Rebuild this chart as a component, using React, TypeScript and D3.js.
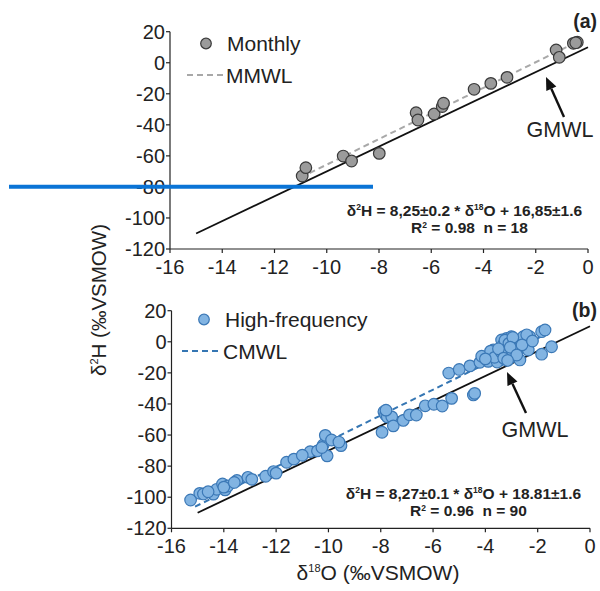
import React from "react";
import * as d3 from "d3";

// ---- Data ----
const xTicks = [-16, -14, -12, -10, -8, -6, -4, -2, 0];
const yTicks = [20, 0, -20, -40, -60, -80, -100, -120];

const monthlyO = [-10.94, -10.8, -9.37, -9.05, -7.99, -6.58, -6.51, -5.89, -5.58, -5.53, -4.36, -3.72, -3.1, -1.22, -1.1, -0.56, -0.41, -0.47];
const monthlyH = [-73.0, -67.6, -60.1, -63.3, -58.4, -32.2, -36.9, -33.0, -28.2, -26.1, -17.1, -13.3, -9.4, 8.2, 3.5, 12.5, 13.2, 12.9];

const hfO = [
  -15.27, -14.92, -14.78, -14.4, -14.27, -14.05, -13.95, -13.85, -13.5, -13.08,
  -12.93, -12.4, -12.1, -11.6, -11.32, -10.7, -10.42, -10.2, -10.12, -10.05,
  -9.88, -9.52, -14.0, -13.6, -10.25, -7.95, -7.88, -7.82, -7.75, -7.58,
  -7.52, -7.14, -6.9, -6.64, -6.3, -5.97, -5.65, -5.29, -7.8, -5.4,
  -5.0, -4.46, -4.41, -4.59, -4.21, -4.14, -3.89, -3.7, -3.57, -3.44,
  -3.38, -3.32, -3.19, -3.13, -3.0, -3.0, -2.87, -2.74, -2.68, -2.55,
  -2.49, -2.36, -2.3, -2.42, -1.85, -1.72, -1.85, -1.47, -3.55, -3.8,
  -3.25, -3.1, -2.95, -2.93, -2.83, -3.05, -3.65, -3.4, -2.6, -2.2,
  -3.5, -3.05, -2.8, -4.0, -3.3, -3.15, -12.0, -14.6, -11.0, -9.6,
];
const hfH = [
  -101.8, -97.5, -97.9, -98.0, -94.9, -91.5, -95.3, -92.8, -89.2, -87.2,
  -88.5, -86.5, -83.5, -77.5, -75.5, -70.7, -70.2, -66.4, -60.2, -73.4,
  -63.2, -66.8, -93.5, -90.5, -68.0, -58.2, -45.0, -47.0, -48.3, -48.3,
  -54.1, -50.6, -47.0, -47.1, -41.2, -40.2, -41.3, -36.4, -44.0, -20.1,
  -17.8, -34.2, -33.2, -15.5, -13.2, -9.3, -12.6, -5.3, -8.5, -11.8,
  1.2, -2.0, 2.2, -5.3, 3.3, -9.6, 0.1, -5.3, -11.7, 3.3,
  -3.2, -5.3, 3.3, 4.5, 6.5, 7.6, -8.0, -3.2, -13.0, -6.0,
  1.0, -1.0, 2.8, -4.2, -4.9, -7.4, -10.0, -6.5, -2.0, 0.5,
  -4.5, -3.5, -8.5, -11.0, -10.5, -12.0, -84.5, -96.5, -73.0, -64.5,
];

// fitted lines [slope, intercept, xStart, xEnd]
const gmwl = [8, 10, -15, 0];
const mmwl = [8.25, 16.85, -11, -0.4];
const cmwl = [8.27, 18.81, -15.1, -1.6];

type PanelProps = {
  top: number;
  xr: [number, number];
  yr: [number, number];
  xs: number[];
  ys: number[];
  fill: string;
  stroke: string;
  legendLabel: string;
  lineLabel: string;
  lineColor: string;
  fit: number[];
  panelLabel: string;
  eq1: [string, string, string];
  eq2: string;
  legendPos: { cx: number; cy: number; lx1: number; lx2: number; ly: number };
  gmwlText: { x: number; y: number; ax1: number; ay1: number; ax2: number; ay2: number };
  eqPos: { x: number; y1: number; y2: number };
  fitDash: string;
};

const font = "'Liberation Sans', Arial, sans-serif";
const tickFs = 20;

function Panel(p: PanelProps) {
  const x = d3.scaleLinear().domain([-16, 0]).range(p.xr);
  const y = d3.scaleLinear().domain([-120, 20]).range(p.yr);
  const line = d3
    .line<number>()
    .x((v) => x(v))
    .y((v) => y(v));
  const lineFor = (f: number[]) => line.y((v) => y(f[0] * v + f[1]))([f[2], f[3]]) || "";
  const axisY = p.yr[0];
  const axisX = p.xr[0];
  const ax = p.gmwlText;
  const ang = Math.atan2(ax.ay2 - ax.ay1, ax.ax2 - ax.ax1);
  const hl = 13,
    hw = 5.5;
  const bx = ax.ax2 - hl * Math.cos(ang),
    by = ax.ay2 - hl * Math.sin(ang);
  const head = `M${ax.ax2},${ax.ay2} L${bx + hw * Math.sin(ang)},${by - hw * Math.cos(ang)} L${bx - hw * Math.sin(ang)},${by + hw * Math.cos(ang)} Z`;
  return (
    <g>
      {/* axes */}
      <line x1={axisX} x2={p.xr[1]} y1={axisY} y2={axisY} stroke="#222" strokeWidth={1.2} />
      <line x1={axisX} x2={axisX} y1={p.yr[0]} y2={p.yr[1]} stroke="#222" strokeWidth={1.2} />
      {xTicks.map((t) => (
        <g key={"x" + t}>
          <line x1={x(t)} x2={x(t)} y1={axisY} y2={axisY + 4} stroke="#222" strokeWidth={1.2} />
          <text x={x(t)} y={axisY + 25} textAnchor="middle" fontSize={tickFs} fontFamily={font} fill="#222">
            {t}
          </text>
        </g>
      ))}
      {yTicks.map((t) => (
        <g key={"y" + t}>
          <line x1={axisX - 4} x2={axisX} y1={y(t)} y2={y(t)} stroke="#222" strokeWidth={1.2} />
          <text x={axisX - 5} y={y(t) + 7} textAnchor="end" fontSize={tickFs} fontFamily={font} fill="#222">
            {t}
          </text>
        </g>
      ))}
      {/* lines */}
      <path d={lineFor(gmwl)} stroke="#111" strokeWidth={1.8} fill="none" />
      <path d={lineFor(p.fit)} stroke={p.lineColor} strokeWidth={2} strokeDasharray={p.fitDash} fill="none" />
      {/* points */}
      {p.xs.map((v, i) => (
        <circle key={i} cx={x(v)} cy={y(p.ys[i])} r={5.8} fill={p.fill} stroke={p.stroke} strokeWidth={1.2} />
      ))}
      {/* legend */}
      <circle cx={p.legendPos.cx} cy={p.legendPos.cy} r={5.3} fill={p.fill} stroke={p.stroke} strokeWidth={1.2} />
      <text x={p.legendPos.cx + 21} y={p.legendPos.cy + 7.5} fontSize={21} fontFamily={font} fill="#222">
        {p.legendLabel}
      </text>
      <line
        x1={p.legendPos.lx1}
        x2={p.legendPos.lx2}
        y1={p.legendPos.ly}
        y2={p.legendPos.ly}
        stroke={p.lineColor}
        strokeWidth={2}
        strokeDasharray={p.fitDash}
      />
      <text x={p.legendPos.lx2 + 3} y={p.legendPos.ly + 7.5} fontSize={21} fontFamily={font} fill="#222">
        {p.lineLabel}
      </text>
      {/* panel label */}
      <text x={597} y={p.top} textAnchor="end" fontSize={19.5} fontWeight="bold" fontFamily={font} fill="#222">
        {p.panelLabel}
      </text>
      {/* GMWL annotation */}
      <line x1={ax.ax1} y1={ax.ay1} x2={bx} y2={by} stroke="#111" strokeWidth={2.4} />
      <path d={head} fill="#111" />
      <text x={ax.x} y={ax.y} textAnchor="middle" fontSize={21.5} fontFamily={font} fill="#222">
        GMWL
      </text>
      {/* equation */}
      <text x={p.eqPos.x} y={p.eqPos.y1} textAnchor="middle" fontSize={15.5} fontWeight="bold" fontFamily={font} fill="#222">
        δ<tspan fontSize={8.5} dy={-6}>2</tspan>
        <tspan dy={6}>{p.eq1[0]}</tspan>
        <tspan fontSize={8.5} dy={-6}>18</tspan>
        <tspan dy={6}>{p.eq1[1]}</tspan>
      </text>
      <text x={p.eqPos.x + 5} y={p.eqPos.y2} textAnchor="middle" fontSize={15.5} fontWeight="bold" fontFamily={font} fill="#222">
        R<tspan fontSize={8.5} dy={-5}>2</tspan>
        <tspan dy={5}>{p.eq2}</tspan>
      </text>
    </g>
  );
}

export default function App() {
  return (
    <svg
      width={600}
      height={591}
      style={{ position: "absolute", left: 0, top: 0, background: "#fff" }}
      xmlns="http://www.w3.org/2000/svg"
    >
      <Panel
        top={28}
        xr={[170, 588]}
        yr={[249, 31.7]}
        xs={monthlyO}
        ys={monthlyH}
        fill="#9b9b9b"
        stroke="#3a3a3a"
        legendLabel="Monthly"
        lineLabel="MMWL"
        lineColor="#a8a8a8"
        fit={mmwl}
        fitDash="6,4"
        panelLabel="(a)"
        eq1={["H = 8,25±0.2 * δ", "O + 16,85±1.6"]}
        eq2={" = 0.98\u00a0\u00a0n = 18"}
        legendPos={{ cx: 206, cy: 43.5, lx1: 187, lx2: 223, ly: 75 }}
        gmwlText={{ x: 560, y: 137, ax1: 564, ay1: 117, ax2: 546, ay2: 77 }}
        eqPos={{ x: 464.5, y1: 216, y2: 233 }}
      />
      <Panel
        top={317}
        xr={[171.5, 590]}
        yr={[528.3, 310.7]}
        xs={hfO}
        ys={hfH}
        fill="#82b4e2"
        stroke="#3b78b6"
        legendLabel="High-frequency"
        lineLabel="CMWL"
        lineColor="#3576b3"
        fit={cmwl}
        fitDash="6,4"
        panelLabel="(b)"
        eq1={["H = 8,27±0.1 * δ", "O + 18.81±1.6"]}
        eq2={" = 0.96\u00a0\u00a0n = 90"}
        legendPos={{ cx: 204, cy: 319.5, lx1: 182, lx2: 220, ly: 351 }}
        gmwlText={{ x: 535, y: 437, ax1: 526, ay1: 413, ax2: 507, ay2: 372 }}
        eqPos={{ x: 463.5, y1: 499, y2: 516 }}
      />
      {/* axis titles */}
      <text
        transform="translate(106,300) rotate(-90)"
        textAnchor="middle"
        fontSize={20.5}
        fontFamily={font}
        fill="#222"
      >
        δ<tspan fontSize={11} dy={-8}>2</tspan>
        <tspan dy={8}>H (‰VSMOW)</tspan>
      </text>
      <text x={378} y={580} textAnchor="middle" fontSize={21} fontFamily={font} fill="#222">
        δ<tspan fontSize={11} dy={-8}>18</tspan>
        <tspan dy={8}>O (‰VSMOW)</tspan>
      </text>
      {/* overlay marker line present in the reference image */}
      <line x1={9} x2={373} y1={186.7} y2={186.7} stroke="#0a74d6" strokeWidth={4} />
    </svg>
  );
}
